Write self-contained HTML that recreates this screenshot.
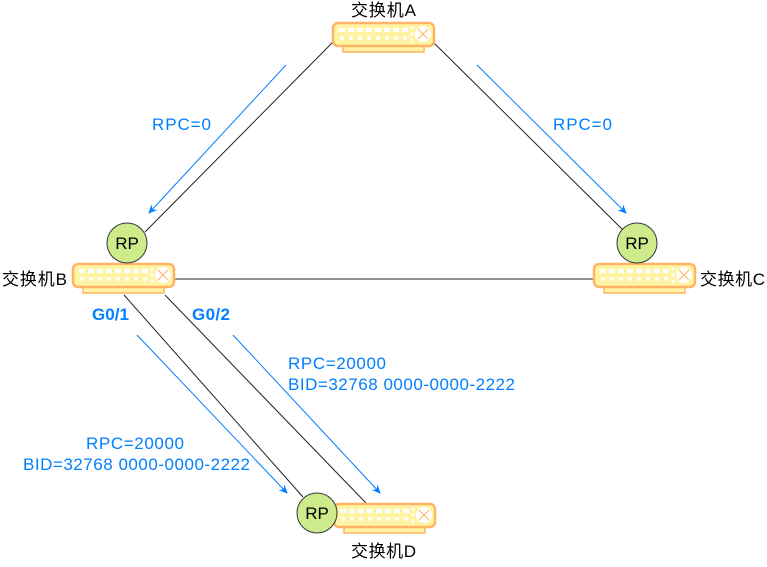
<!DOCTYPE html>
<html><head><meta charset="utf-8"><style>
body{margin:0;background:#fff;width:767px;height:562px;overflow:hidden}
svg{font-family:"Liberation Sans","Noto Sans CJK SC",sans-serif}
</style></head><body>
<svg width="767" height="562" viewBox="0 0 767 562">
<defs>
<marker id="ar" markerWidth="10" markerHeight="10" refX="8" refY="5" orient="auto" markerUnits="userSpaceOnUse">
<path d="M0,1 L9,5 L0,9 L3,5 Z" fill="#007FFF"/></marker>
<g id="sw">
<rect x="10" y="22" width="81" height="7" fill="#fff4a3" stroke="#ffb366" stroke-width="1.5"/>
<rect x="0" y="0" width="101" height="23" rx="5" fill="#fff4a3" stroke="#ffb366" stroke-width="2.5"/>
<g fill="#fff">
<rect x="6" y="5" width="6" height="4"/><rect x="15" y="5" width="6" height="4"/><rect x="24" y="5" width="6" height="4"/><rect x="33" y="5" width="6" height="4"/><rect x="42" y="5" width="6" height="4"/><rect x="51" y="5" width="6" height="4"/><rect x="60" y="5" width="6" height="4"/><rect x="69" y="5" width="6" height="4"/>
<circle cx="9" cy="15" r="2"/><circle cx="18" cy="15" r="2"/><circle cx="27" cy="15" r="2"/><circle cx="36" cy="15" r="2"/><circle cx="45" cy="15" r="2"/><circle cx="54" cy="15" r="2"/><circle cx="63" cy="15" r="2"/><circle cx="72" cy="15" r="2"/>
<circle cx="79" cy="5" r="1.5"/><circle cx="79" cy="11" r="1.5"/><circle cx="79" cy="17" r="1.5"/>
<circle cx="90" cy="11" r="8"/></g>
<path d="M85,6 L95,16 M95,6 L85,16" stroke="#ffb366" stroke-width="1"/>
</g>
</defs>
<g stroke="#222" stroke-width="1" fill="none">
<line x1="333" y1="42" x2="145" y2="232"/>
<line x1="433" y1="42" x2="625" y2="232"/>
<line x1="174" y1="279" x2="594" y2="279"/>
<line x1="124" y1="295" x2="303" y2="497"/>
<line x1="165" y1="295" x2="366" y2="503"/>
</g>
<g stroke="#007FFF" stroke-width="1" marker-end="url(#ar)">
<line x1="286" y1="65" x2="149" y2="213"/>
<line x1="477" y1="65" x2="626" y2="213"/>
<line x1="137" y1="335" x2="287" y2="493"/>
<line x1="233" y1="335" x2="380" y2="493"/>
</g>
<use href="#sw" x="333" y="23"/>
<use href="#sw" x="73" y="264"/>
<use href="#sw" x="594" y="264"/>
<use href="#sw" x="334" y="504"/>
<g fill="#cdeb8b" stroke="#36393d" stroke-width="1">
<circle cx="127" cy="243" r="20"/><circle cx="637" cy="243" r="20"/><circle cx="317" cy="513" r="20"/>
</g>
<g font-size="17" fill="#000" text-anchor="middle">
<text x="127" y="249">RP</text><text x="637" y="249">RP</text><text x="317" y="519">RP</text>
</g>
<g font-size="17" fill="#000">
<text x="351" y="16" textLength="65">交换机A</text>
<text x="2" y="285" textLength="65">交换机B</text>
<text x="700" y="285" textLength="65">交换机C</text>
<text x="351" y="557" textLength="65">交换机D</text>
</g>
<g font-size="17" fill="#007FFF">
<text x="152" y="130" textLength="59">RPC=0</text>
<text x="553" y="130" textLength="59">RPC=0</text>
<text x="92" y="320" font-weight="bold" textLength="37">G0/1</text>
<text x="192" y="320" font-weight="bold" textLength="38">G0/2</text>
<text x="288" y="369" textLength="98">RPC=20000</text>
<text x="288" y="390" textLength="227">BID=32768 0000-0000-2222</text>
<text x="86" y="449" textLength="98">RPC=20000</text>
<text x="23" y="470" textLength="227">BID=32768 0000-0000-2222</text>
</g>
</svg>
</body></html>
